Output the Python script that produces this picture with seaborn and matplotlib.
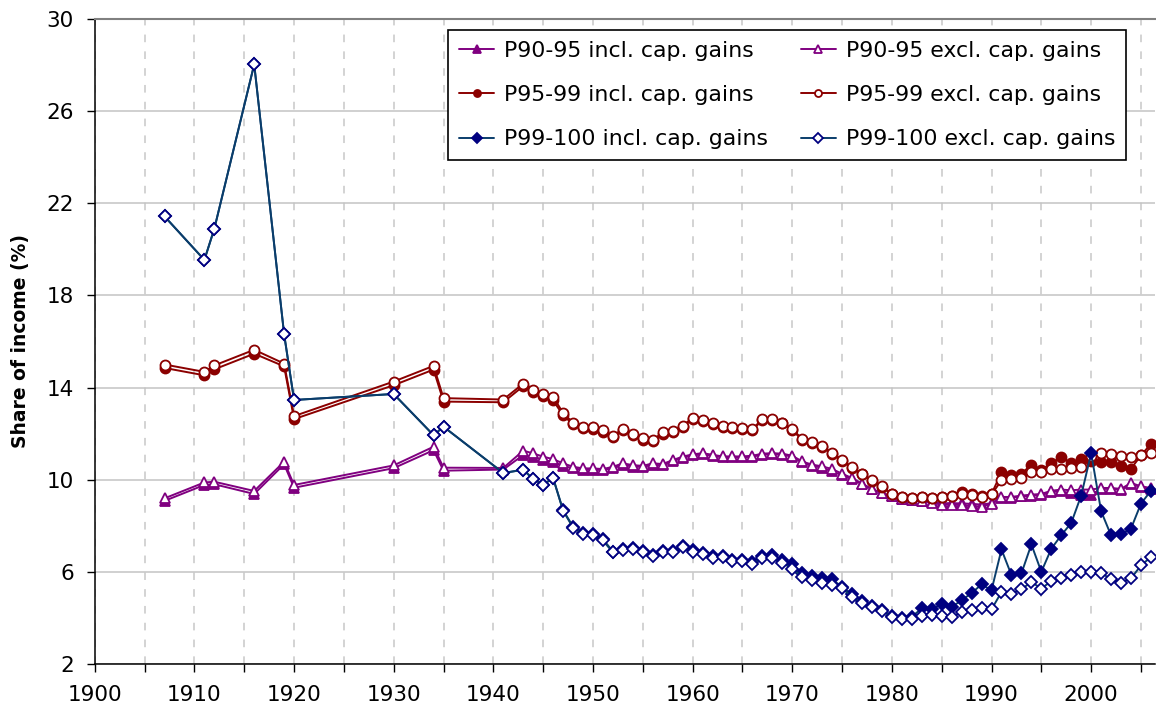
import matplotlib
matplotlib.use("Agg")
import matplotlib.pyplot as plt
import seaborn as sns
import pandas as pd
from matplotlib.ticker import MultipleLocator, FuncFormatter

years = [1907, 1911, 1912, 1916, 1919, 1920, 1930, 1934, 1935, 1941,
         1943, 1944, 1945, 1946, 1947, 1948, 1949, 1950, 1951, 1952,
         1953, 1954, 1955, 1956, 1957, 1958, 1959, 1960, 1961, 1962,
         1963, 1964, 1965, 1966, 1967, 1968, 1969, 1970, 1971, 1972,
         1973, 1974, 1975, 1976, 1977, 1978, 1979, 1980, 1981, 1982,
         1983, 1984, 1985, 1986, 1987, 1988, 1989, 1990, 1991, 1992,
         1993, 1994, 1995, 1996, 1997, 1998, 1999, 2000, 2001, 2002,
         2003, 2004, 2005, 2006]

p90_incl = [9.08, 9.77, 9.80, 9.38, 10.67, 9.65, 10.50, 11.28, 10.39, 10.44,
            11.07, 10.98, 10.86, 10.77, 10.60, 10.49, 10.43, 10.43, 10.42, 10.50,
            10.64, 10.57, 10.55, 10.65, 10.62, 10.80, 10.95, 11.05, 11.10, 11.03,
            10.97, 10.97, 10.97, 11.00, 11.08, 11.10, 11.08, 11.00, 10.75, 10.60,
            10.52, 10.36, 10.20, 10.02, 9.80, 9.58, 9.40, 9.27, 9.15, 9.10,
            9.06, 9.02, 8.98, 8.98, 8.97, 8.95, 8.92, 8.98, 9.22, 9.22,
            9.27, 9.30, 9.33, 9.46, 9.50, 9.40, 9.33, 9.35, 9.60, 9.60,
            9.55, 9.80, 9.68, 9.60]
p90_excl = [9.19, 9.88, 9.91, 9.51, 10.78, 9.77, 10.62, 11.43, 10.52, 10.51,
            11.26, 11.14, 11.00, 10.89, 10.71, 10.56, 10.49, 10.49, 10.46, 10.56,
            10.71, 10.63, 10.60, 10.71, 10.68, 10.85, 11.00, 11.10, 11.15, 11.08,
            11.01, 11.01, 11.01, 11.04, 11.13, 11.15, 11.13, 11.04, 10.79, 10.65,
            10.58, 10.46, 10.26, 10.07, 9.83, 9.60, 9.42, 9.28, 9.16, 9.11,
            9.06, 8.99, 8.92, 8.92, 8.90, 8.87, 8.83, 8.96, 9.25, 9.25,
            9.31, 9.35, 9.38, 9.52, 9.57, 9.54, 9.57, 9.57, 9.64, 9.64,
            9.60, 9.86, 9.71, 9.64]
p95_incl = [14.85, 14.53, 14.79, 15.47, 14.92, 12.63, 14.10, 14.78, 13.39, 13.36,
            14.06, 13.80, 13.62, 13.44, 12.80, 12.40, 12.24, 12.21, 12.09, 11.84,
            12.17, 11.93, 11.74, 11.67, 12.00, 12.06, 12.29, 12.63, 12.55, 12.40,
            12.30, 12.23, 12.19, 12.14, 12.60, 12.60, 12.44, 12.15, 11.73, 11.58,
            11.43, 11.11, 10.83, 10.50, 10.23, 9.94, 9.69, 9.37, 9.24, 9.20,
            9.23, 9.20, 9.23, 9.28, 9.45, 9.38, 9.27, 9.38, 10.32, 10.22,
            10.26, 10.65, 10.43, 10.72, 10.98, 10.72, 10.89, 10.82, 10.75, 10.75,
            10.61, 10.48, 11.05, 11.56]
p95_excl = [15.00, 14.68, 14.96, 15.64, 15.04, 12.76, 14.26, 14.94, 13.54, 13.48,
            14.17, 13.91, 13.74, 13.59, 12.90, 12.47, 12.30, 12.27, 12.15, 11.89,
            12.22, 11.98, 11.79, 11.72, 12.05, 12.11, 12.34, 12.68, 12.60, 12.45,
            12.35, 12.28, 12.24, 12.19, 12.64, 12.64, 12.48, 12.19, 11.77, 11.62,
            11.47, 11.15, 10.87, 10.53, 10.26, 9.97, 9.71, 9.39, 9.25, 9.21,
            9.24, 9.21, 9.24, 9.28, 9.39, 9.33, 9.25, 9.36, 9.97, 10.03,
            10.07, 10.33, 10.32, 10.46, 10.48, 10.51, 10.55, 11.01, 11.15, 11.11,
            11.04, 10.98, 11.07, 11.15]
p99_incl = [21.43, 19.54, 20.90, 28.03, 16.32, 13.46, 13.72, 11.93, 12.30, 10.29,
            10.43, 10.03, 9.78, 10.07, 8.68, 7.96, 7.70, 7.65, 7.42, 6.88,
            7.00, 7.03, 6.90, 6.74, 6.92, 6.90, 7.10, 6.94, 6.82, 6.68,
            6.68, 6.53, 6.50, 6.42, 6.68, 6.72, 6.53, 6.33, 5.93, 5.81,
            5.75, 5.67, 5.35, 5.02, 4.74, 4.51, 4.34, 4.08, 3.98, 4.05,
            4.41, 4.37, 4.60, 4.48, 4.76, 5.08, 5.45, 5.20, 6.97, 5.86,
            5.93, 7.19, 6.00, 7.00, 7.59, 8.12, 9.31, 11.15, 8.63, 7.58,
            7.62, 7.88, 8.96, 9.52]
p99_excl = [21.43, 19.54, 20.90, 28.03, 16.32, 13.46, 13.72, 11.93, 12.30, 10.29,
            10.43, 10.03, 9.78, 10.07, 8.65, 7.92, 7.65, 7.60, 7.36, 6.84,
            6.96, 6.99, 6.84, 6.70, 6.88, 6.86, 7.07, 6.87, 6.76, 6.62,
            6.65, 6.48, 6.48, 6.36, 6.58, 6.58, 6.39, 6.14, 5.78, 5.64,
            5.52, 5.42, 5.28, 4.92, 4.66, 4.46, 4.30, 4.05, 3.94, 3.97,
            4.08, 4.12, 4.08, 4.05, 4.24, 4.35, 4.45, 4.37, 5.12, 5.05,
            5.24, 5.56, 5.27, 5.60, 5.71, 5.86, 6.00, 6.00, 5.96, 5.67,
            5.53, 5.71, 6.28, 6.64]

labels = ["P90-95 incl. cap. gains", "P90-95 excl. cap. gains",
          "P95-99 incl. cap. gains", "P95-99 excl. cap. gains",
          "P99-100 incl. cap. gains", "P99-100 excl. cap. gains"]
y_ticks = [2, 6, 10, 14, 18, 22, 26, 30]

df = pd.DataFrame({"year": years,
                   labels[0]: p90_incl, labels[1]: p90_excl,
                   labels[2]: p95_incl, labels[3]: p95_excl,
                   labels[4]: p99_incl, labels[5]: p99_excl})

sns.set_style("white")
plt.rcParams["font.family"] = ["DejaVu Sans"]
plt.rcParams["text.color"] = "black"
plt.rcParams["axes.labelcolor"] = "black"
plt.rcParams["xtick.color"] = "black"
plt.rcParams["ytick.color"] = "black"

purple = "#800080"
red = "#8B0000"
navy = "#000080"
blue_line = "#0A3D6B"

# (label, marker, line colour, marker colour, filled, size)
styles = [
    (labels[0], "^", purple, purple, True, 7.5),
    (labels[1], "^", purple, purple, False, 7.5),
    (labels[2], "o", red, red, True, 7.2),
    (labels[3], "o", red, red, False, 7.2),
    (labels[4], "D", blue_line, navy, True, 6.6),
    (labels[5], "D", blue_line, navy, False, 6.6),
]

fig, ax = plt.subplots(figsize=(11.56, 7.17), dpi=100)
fig.subplots_adjust(left=0.082, right=0.9995, bottom=0.074, top=0.9735)

for lab, mk, lc, mc, filled, ms in styles:
    sns.lineplot(data=df, x="year", y=lab, ax=ax, label=lab, color=lc,
                 marker=mk, markersize=ms, markerfacecolor=mc if filled else "white",
                 markeredgecolor=mc, markeredgewidth=1.3, linewidth=1.4)

ax.set_xlim(1900, 2006.45)
ax.set_ylim(2, 30)
ax.xaxis.set_major_locator(MultipleLocator(5))
ax.xaxis.set_major_formatter(FuncFormatter(lambda v, p: f"{int(v)}" if int(v) % 10 == 0 else ""))
ax.set_yticks(y_ticks)

ax.yaxis.grid(True, color="#c4c4c4", linewidth=1.1, linestyle="-")
ax.xaxis.grid(True, color="#c8c8c8", linewidth=1.1, linestyle=(0, (5, 6)))
ax.set_axisbelow(True)

ax.tick_params(axis="both", direction="out", length=6, width=1, color="black",
               labelcolor="black", labelsize=15.5, pad=9, bottom=True, left=True)
for s in ["left", "bottom"]:
    ax.spines[s].set_color("black")
    ax.spines[s].set_linewidth(1.1)
ax.spines["top"].set_color("#808080")
ax.spines["top"].set_linewidth(1.5)
ax.spines["right"].set_visible(False)

ax.set_xlabel("")
ax.set_ylabel("Share of income (%)", fontsize=13.5, fontweight="bold", labelpad=12)

handles, labs = ax.get_legend_handles_labels()
order = [0, 2, 4, 1, 3, 5]
leg = ax.legend([handles[i] for i in order], [labs[i] for i in order],
                ncol=2, loc="upper right", bbox_to_anchor=(0.9726, 0.983),
                borderaxespad=0, fontsize=15.8, frameon=True, fancybox=False,
                edgecolor="black", framealpha=1, handlelength=1.6,
                handletextpad=0.45, columnspacing=1.5, labelspacing=1.1,
                borderpad=0.5, markerscale=0.7)
leg.get_frame().set_linewidth(1.2)

fig.savefig("out.png", dpi=100)
